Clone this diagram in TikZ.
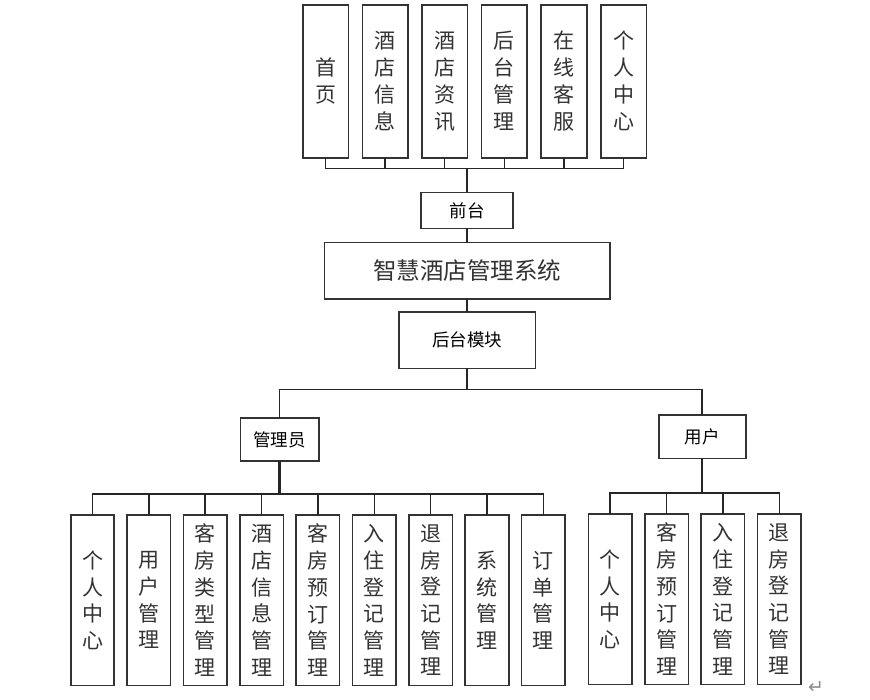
\documentclass[tikz,border=0pt]{standalone}
\usepackage{fontspec}
\setmainfont{Noto Sans CJK SC}
\newfontfamily\symfont{DejaVu Sans}
\usetikzlibrary{positioning}

\begin{document}
\begin{tikzpicture}[
  x=1pt, y=-1pt,
  box/.style={draw=black!80, line width=1.6pt, inner sep=0pt, outer sep=0pt, align=center, text=black!80},
  vbox/.style={box, minimum width=45.6pt, minimum height=153pt, font=\fontsize{21pt}{27pt}\selectfont},
  lbox/.style={box, minimum width=43.5pt, minimum height=170.5pt, font=\fontsize{21pt}{26.7pt}\selectfont},
  sbox/.style={box, text=black, font=\fontsize{17.5pt}{20pt}\selectfont},
  line/.style={draw=black!85, line width=1.5pt},
  trunk/.style={line, line width=2.4pt},
  node distance=14pt
]
\path[use as bounding box, fill=white] (0,0) rectangle (870,699);

% front end row
\node[vbox] (t1) at (325.5,81.2) {首\\页};
\node[vbox, right=of t1] (t2) {酒\\店\\信\\息};
\node[vbox, right=of t2] (t3) {酒\\店\\资\\讯};
\node[vbox, right=of t3] (t4) {后\\台\\管\\理};
\node[vbox, right=of t4] (t5) {在\\线\\客\\服};
\node[vbox, right=of t5] (t6) {个\\人\\中\\心};

% middle column
\node[sbox, minimum width=92pt, minimum height=36pt] (front) at (467,210.3) {前台};
\node[box, minimum width=285.4pt, minimum height=56.3pt, font=\fontsize{23.5pt}{28pt}\selectfont] (sys) at (467,270.8) {智慧酒店管理系统};
\node[sbox, minimum width=136.6pt, minimum height=56.3pt] (back) at (467,340.2) {后台模块};
\node[sbox, minimum width=78.4pt, minimum height=43pt] (admin) at (279.5,439.5) {管理员};
\node[sbox, minimum width=87pt, minimum height=43.6pt] (user) at (702.2,436.5) {用户};

% admin row
\node[lbox] (a1) at (92.5,600.3) {个\\人\\中\\心};
\node[lbox, right=12.85pt of a1] (a2) {用\\户\\管\\理};
\node[lbox, right=12.85pt of a2] (a3) {客\\房\\类\\型\\管\\理};
\node[lbox, right=12.85pt of a3] (a4) {酒\\店\\信\\息\\管\\理};
\node[lbox, right=12.85pt of a4] (a5) {客\\房\\预\\订\\管\\理};
\node[lbox, right=12.85pt of a5] (a6) {入\\住\\登\\记\\管\\理};
\node[lbox, right=12.85pt of a6] (a7) {退\\房\\登\\记\\管\\理};
\node[lbox, right=12.85pt of a7] (a8) {系\\统\\管\\理};
\node[lbox, right=12.85pt of a8] (a9) {订\\单\\管\\理};

% user row
\node[lbox] (u1) at (610.2,599.3) {个\\人\\中\\心};
\node[lbox, right=12.85pt of u1] (u2) {客\\房\\预\\订\\管\\理};
\node[lbox, right=12.85pt of u2] (u3) {入\\住\\登\\记\\管\\理};
\node[lbox, right=12.85pt of u3] (u4) {退\\房\\登\\记\\管\\理};

\node[text=black!45, font=\symfont\fontsize{19pt}{19pt}\selectfont] (mark) at (816,688) {↵};

\coordinate (topbus) at (467,168.7);
\coordinate (split) at (467,389.7);
\coordinate (adminbus) at (279.5,494);
\coordinate (userbus) at (702.2,493);

\draw[line] (t1.south) |- (topbus);
\draw[line] (t2.south) |- (topbus);
\draw[line] (t3.south) |- (topbus);
\draw[line] (t4.south) |- (topbus);
\draw[line] (t5.south) |- (topbus);
\draw[line] (t6.south) |- (topbus);
\draw[trunk] (topbus) -- (front.north);
\draw[line] (front.south) -- (sys.north);
\draw[line] (sys.south) -- (back.north);
\draw[line] (back.south) -- (split);
\draw[line] (split) -| (admin.north);
\draw[line] (split) -| (user.north);

\draw[trunk] (admin.south) -- (adminbus);
\draw[line] (adminbus) -| (a1.north);
\draw[line] (adminbus) -| (a2.north);
\draw[line] (adminbus) -| (a3.north);
\draw[line] (adminbus) -| (a4.north);
\draw[line] (adminbus) -| (a5.north);
\draw[line] (adminbus) -| (a6.north);
\draw[line] (adminbus) -| (a7.north);
\draw[line] (adminbus) -| (a8.north);
\draw[line] (adminbus) -| (a9.north);

\draw[trunk] (user.south) -- (userbus);
\draw[line] (userbus) -| (u1.north);
\draw[line] (userbus) -| (u2.north);
\draw[line] (userbus) -| (u3.north);
\draw[line] (userbus) -| (u4.north);
\end{tikzpicture}
\end{document}
